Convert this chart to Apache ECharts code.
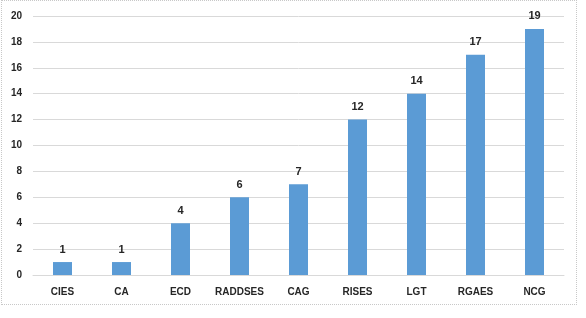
<!DOCTYPE html>
<html><head><meta charset="utf-8">
<script src="https://cdn.jsdelivr.net/npm/echarts@6/dist/echarts.min.js"></script>
<style>html,body{margin:0;padding:0;background:#fff}
#frame{position:absolute;left:1px;top:0;width:576px;height:305px;border:1px dotted #c8c8c8;box-sizing:border-box}
#c{position:absolute;left:0;top:0;width:586px;height:318px}</style>
</head><body><div id="frame"></div><div id="c"></div>
<script>
var categories = ['CIES','CA','ECD','RADDSES','CAG','RISES','LGT','RGAES','NCG'];
var values = [1,1,4,6,7,12,14,17,19];
var yTicks = {min:0, max:20, interval:2};
var chart = echarts.init(document.getElementById('c'));
chart.setOption({
  animation:false,
  grid:{left:33,right:22,top:16,bottom:43,containLabel:false},
  xAxis:{type:'category',data:categories,
    axisLine:{show:true,lineStyle:{color:'#d9d9d9'}},axisTick:{show:false},
    axisLabel:{color:'#262626',fontFamily:'Liberation Sans',fontSize:10,fontWeight:'bold',margin:12,interval:0}},
  yAxis:{type:'value',min:yTicks.min,max:yTicks.max,interval:yTicks.interval,
    axisLine:{show:false},axisTick:{show:false},
    splitLine:{lineStyle:{color:'#d9d9d9'}},
    axisLabel:{color:'#262626',fontFamily:'Liberation Sans',fontSize:10,fontWeight:'bold',margin:11}},
  series:[{type:'bar',data:values,barWidth:19,itemStyle:{color:'#5b9bd5'},
    label:{show:true,position:'top',distance:7,color:'#262626',fontFamily:'Liberation Sans',fontSize:11,fontWeight:'bold'}}]
});
</script></body></html>
